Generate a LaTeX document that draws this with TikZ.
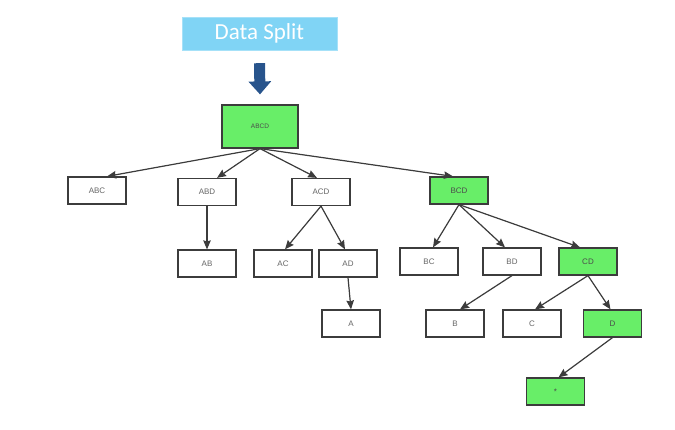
\documentclass[tikz,border=0pt]{standalone}
\usepackage{fontspec}
\setmainfont{Liberation Sans}
\newfontfamily\bannerfont{Carlito}
\usepackage{tikz}
\usetikzlibrary{arrows.meta, positioning}

\definecolor{setgreen}{RGB}{104,238,104}
\definecolor{bannerblue}{RGB}{128,212,245}
\definecolor{arrowblue}{RGB}{40,84,140}
\definecolor{edgegray}{RGB}{60,60,60}

\begin{document}
\begin{tikzpicture}[
      x=1pt, y=-1pt,
      >={Stealth[length=9pt,width=7.5pt,inset=1pt]},
      setbox/.style={draw=edgegray, line width=1.2pt, fill=white,
                     minimum width=58pt, minimum height=27pt, inner sep=0pt,
                     text=black!60, font=\fontsize{8}{9}\selectfont},
      keepbox/.style={setbox, fill=setgreen, text=black!70},
      edge/.style={->, draw=edgegray, fill=edgegray, line width=1.2pt}
  ]
      \useasboundingbox (0,0) rectangle (675,430);

      % Kopfzeile
      \node[fill=bannerblue, draw=bannerblue!70!white, minimum width=155pt,
            minimum height=33pt, inner sep=0pt, text=white,
            font=\bannerfont\fontsize{23}{25}\selectfont] (split) at (259.5,33.5) {Data Split};

      % Wurzel
      \node[keepbox, minimum width=76pt, minimum height=43pt,
            font=\fontsize{6.5}{7.5}\selectfont] (abcd) at (260,126.5) {ABCD};

      \draw[line width=11pt, arrowblue, -{Triangle[width=22pt,length=13pt]}]
          ([yshift=-13pt]split.south) -- ([yshift=10pt]abcd.north);

      % Ebene 1
      \node[setbox]  (abc) at (97,190.5)  {ABC};
      \node[setbox]  (abd) at (207,192)   {ABD};
      \node[setbox]  (acd) at (321,192)   {ACD};
      \node[keepbox] (bcd) at (459,190.5) {BCD};

      % Ebene 2
      \node[setbox]  (ab) at (207,263.5) {AB};
      \node[setbox]  (ac) at (283,263.5) {AC};
      \node[setbox]  (ad) at (348,263.5) {AD};
      \node[setbox]  (bc) at (429,261.5) {BC};
      \node[setbox]  (bd) at (512,261.5) {BD};
      \node[keepbox] (cd) at (588,261.5) {CD};

      % Ebene 3
      \node[setbox]  (a) at (351,323.5) {A};
      \node[setbox]  (b) at (455,323.5) {B};
      \node[setbox]  (c) at (532,323.5) {C};
      \node[keepbox] (d) at (612.5,323.5) {D};

      % Ebene 4
      \node[keepbox] (empty) at (555.5,391.5) {*};

      % Kanten
      \draw[edge] (abcd.south) -- ([xshift=10pt]abc.north);
      \draw[edge] (abcd.south) -- ([xshift=10pt]abd.north);
      \draw[edge] (abcd.south) -- ([xshift=-4pt]acd.north);
      \draw[edge] (abcd.south) -- ([xshift=-6pt]bcd.north);
      \draw[edge] (abd.south) -- (ab.north);
      \draw[edge] (acd.south) -- ([xshift=2pt]ac.north);
      \draw[edge] (acd.south) -- ([xshift=-3pt]ad.north);
      \draw[edge] (ad.south) -- (a.north);
      \draw[edge] (bcd.south) -- ([xshift=4pt]bc.north);
      \draw[edge] (bcd.south) -- ([xshift=-7pt]bd.north);
      \draw[edge] (bcd.south) -- ([xshift=-8pt]cd.north);
      \draw[edge] (bd.south) -- ([xshift=5pt]b.north);
      \draw[edge] (cd.south) -- ([xshift=3pt]c.north);
      \draw[edge] (cd.south) -- ([xshift=-2pt]d.north);
      \draw[edge] (d.south) -- ([xshift=3pt]empty.north);
  \end{tikzpicture}
\end{document}
